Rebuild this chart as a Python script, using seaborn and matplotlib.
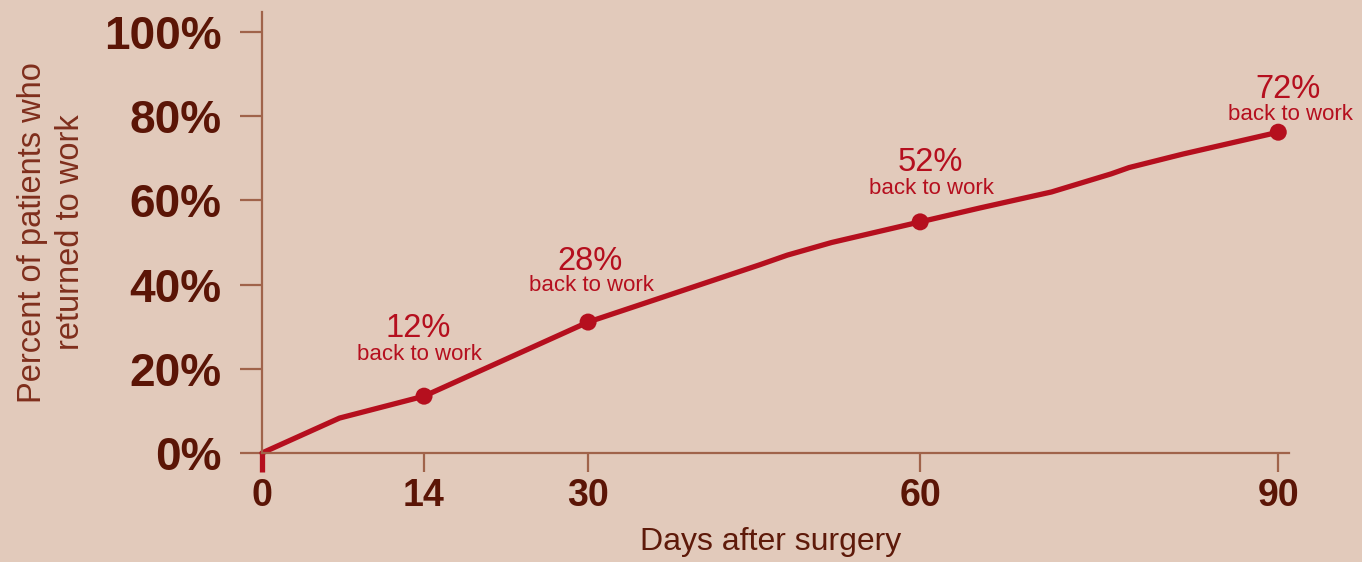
import numpy as np
import matplotlib
matplotlib.use('Agg')
import matplotlib.pyplot as plt
import seaborn as sns

# curve
days = [0, 6.7, 14, 30, 45.5, 48, 52, 60, 65, 71, 76, 77.5, 82, 90]
pct = [0, 8.3, 13.5, 31.1, 44.7, 47, 50, 54.9, 58.2, 62, 66.3, 67.8, 71, 76.2]

# highlighted points and their labels
mark_days = [14, 30, 60, 90]
mark_pct = [13.5, 31.1, 54.9, 76.2]
mark_labels = ['12%', '28%', '52%', '72%']

xticks = [0, 14, 30, 60, 90]
yticks = [0, 20, 40, 60, 80, 100]

bg = '#e2cabb'
red = '#b50f1e'
spine_col = '#a0634a'
dark = '#5b1506'

sns.set_theme(style='ticks')
plt.rcParams['font.family'] = ['Liberation Sans', 'DejaVu Sans']

fig = plt.figure(figsize=(13.62, 5.62), dpi=100, facecolor=bg)
ax = fig.add_axes([262/1362, 109/562, 1027/1362, 441/562])
ax.set_facecolor(bg)

# the printed axis is not evenly spaced, so map days through a piecewise scale
knot_days = [-100, 0, 14, 30, 60, 90, 200]
knot_pos = [-1157, 0, 162, 326, 658, 1016, 2328]
fwd = lambda x: np.interp(x, knot_days, knot_pos)
inv = lambda p: np.interp(p, knot_pos, knot_days)
ax.set_xscale('function', functions=(fwd, inv))

sns.lineplot(x=days, y=pct, ax=ax, color=red, linewidth=3.8, clip_on=False)
sns.scatterplot(x=mark_days, y=mark_pct, ax=ax, color=red, s=150,
                edgecolor='none', zorder=5, clip_on=False)

# label offsets in pixels from each point
offs_big = [(-6, 68), (2, 61), (10, 59), (10, 43)]
offs_small = [(-5, 42), (3, 37), (11, 33), (12, 18)]
for d, p, lab, ob, osm in zip(mark_days, mark_pct, mark_labels, offs_big, offs_small):
    ax.annotate(lab, (d, p), xytext=ob, textcoords='offset pixels',
                ha='center', va='center', fontsize=23.5, color=red)
    ax.annotate('back to work', (d, p), xytext=osm, textcoords='offset pixels',
                ha='center', va='center', fontsize=16, color=red)

ax.set_xlim(0, 90.9)
ax.set_ylim(0, 104.75)
ax.set_xticks(xticks)
ax.set_xticklabels([str(t) for t in xticks])
ax.set_yticks(yticks)
ax.set_yticklabels([f'{t}%' for t in yticks])

for s in ['top', 'right']:
    ax.spines[s].set_visible(False)
for s in ['left', 'bottom']:
    ax.spines[s].set_color(spine_col)
    ax.spines[s].set_linewidth(1.6)

ax.tick_params(axis='y', length=16, width=1.6, color=spine_col, pad=13,
               labelsize=33, labelcolor=dark)
ax.tick_params(axis='x', length=14, width=1.6, color=spine_col, pad=4,
               labelsize=27, labelcolor=dark)
for lab in ax.get_xticklabels() + ax.get_yticklabels():
    lab.set_fontweight('bold')

t0 = ax.xaxis.get_major_ticks()[0].tick1line
t0.set_markeredgecolor(red)
t0.set_markeredgewidth(3.8)

ax.set_ylabel('Percent of patients who\nreturned to work', fontsize=23.5,
              color='#7f2e1c', va='center', linespacing=1.3)
ax.yaxis.set_label_coords(-0.205, 0.5)
ax.set_xlabel('Days after surgery', fontsize=23, color='#5e1a0a', va='center')
ax.xaxis.set_label_coords(0.4956, -0.2018)

fig.savefig('out.png', dpi=100, facecolor=bg)
